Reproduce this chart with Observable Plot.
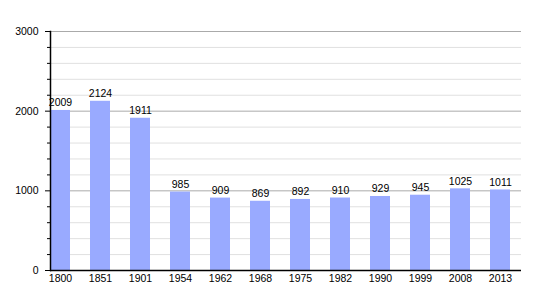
<!DOCTYPE html>
<html>
<head>
<meta charset="utf-8">
<script src="https://cdn.jsdelivr.net/npm/d3@7"></script>
<script src="https://cdn.jsdelivr.net/npm/@observablehq/plot@0.6"></script>
<style>
  html, body { margin: 0; padding: 0; background: #fff; }
  svg { display: block; }
</style>
</head>
<body>
<div id="chart"></div>
<script>
const years = ["1800","1851","1901","1954","1962","1968","1975","1982","1990","1999","2008","2013"];
const population = [2009,2124,1911,985,909,869,892,910,929,945,1025,1011];
const majorTicks = [0,1000,2000,3000];
const minorTicks = [200,400,600,800,1200,1400,1600,1800,2200,2400,2600,2800];

const data = years.map((y, i) => ({year: y, pop: population[i]}));

const chart = Plot.plot({
  width: 550,
  height: 300,
  marginLeft: 50,
  marginRight: 29,
  marginTop: 31,
  marginBottom: 30,
  style: {fontFamily: "'Liberation Sans', Arial, sans-serif", fontSize: "10.5px", color: "#000", background: "#fff"},
  x: {domain: years, paddingInner: 0.5, paddingOuter: 0, align: 0, label: null},
  y: {domain: [0, 3000], label: null},
  marks: [
    Plot.ruleY(minorTicks, {stroke: "#e0e0e0", strokeWidth: 1}),
    Plot.ruleY(majorTicks.slice(1), {stroke: "#aaa", strokeWidth: 1}),
    Plot.barY(data, {x: "year", y: "pop", fill: "#99aaff"}),
    Plot.text(data, {x: "year", y: "pop", text: d => String(d.pop), lineAnchor: "bottom", dy: -4, fill: "#000", fontSize: 10.5}),
    Plot.axisY(majorTicks, {tickSize: 5, tickPadding: 7, tickFormat: d => String(d), stroke: "#000", fill: "#000", fontSize: 10.5, label: null}),
    Plot.axisY(minorTicks, {tickSize: 3, tickFormat: () => "", stroke: "#000", label: null}),
    Plot.axisX({tickSize: 0, tickPadding: 4, fill: "#000", fontSize: 10.5, label: null}),
    Plot.ruleY([0], {stroke: "#000", strokeWidth: 1.5}),
    Plot.frame({anchor: "left", stroke: "#000", strokeWidth: 1.5})
  ]
});
document.getElementById("chart").appendChild(chart);
</script>
</body>
</html>
